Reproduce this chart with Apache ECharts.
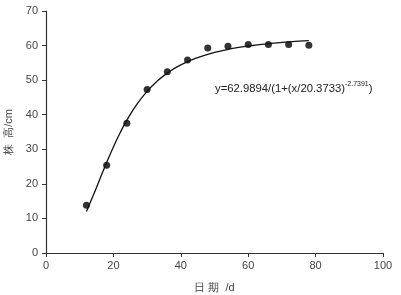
<!DOCTYPE html>
<html><head><meta charset="utf-8">
<script src="https://cdn.jsdelivr.net/npm/echarts@6/dist/echarts.min.js"></script>
<style>html,body{margin:0;padding:0;background:#fff}#c{width:401px;height:295px}</style>
</head><body><div id="c"></div>
<script>
var days = [12, 18, 24, 30, 36, 42, 48, 54, 60, 66, 72, 78];
var heights = [13.8, 25.4, 37.5, 47.3, 52.4, 55.8, 59.3, 59.8, 60.3, 60.3, 60.3, 60.1];
var fitX = [12, 14, 16, 18, 20, 22, 24, 27, 30, 33, 36, 40, 45, 50, 55, 60, 66, 72, 78];
var fitY = [11.97, 16.60, 21.43, 26.20, 30.69, 34.79, 38.44, 43.07, 46.78, 49.72, 52.04, 54.41, 56.54, 58.03, 59.10, 59.88, 60.57, 61.07, 61.43];
var xTicks = [0, 20, 40, 60, 80, 100];
var yTicks = [0, 10, 20, 30, 40, 50, 60, 70];
var xName = '日 期  /d';
var yName = '株  高/cm';
var eqMain = 'y=62.9894/(1+(x/20.3733)';
var eqExp = '-2.7391';

var chart = echarts.init(document.getElementById('c'));
var font = '"Liberation Sans", Arial, sans-serif';
var axisCommon = {
  axisLine: {show: true, onZero: false, lineStyle: {color: '#333', width: 1.2}},
  axisTick: {show: true, length: 4, lineStyle: {color: '#333'}},
  splitLine: {show: false},
  nameTextStyle: {color: '#444', fontSize: 11, fontFamily: font}
};
chart.setOption({
  animation: false,
  grid: {left: 46, right: 18, top: 11, bottom: 42, containLabel: false, outerBoundsMode: 'none'},
  xAxis: Object.assign({
    type: 'value', min: xTicks[0], max: xTicks[xTicks.length - 1], interval: 20,
    name: xName, nameLocation: 'middle', nameGap: 29,
    axisLabel: {color: '#444', fontSize: 11, fontFamily: font, margin: 7}
  }, axisCommon),
  yAxis: Object.assign({
    type: 'value', min: yTicks[0], max: yTicks[yTicks.length - 1], interval: 10,
    name: yName, nameLocation: 'middle', nameGap: 27, nameRotate: 90,
    axisLabel: {color: '#444', fontSize: 11, fontFamily: font, margin: 8}
  }, axisCommon),
  series: [
    {
      type: 'line', smooth: true, symbol: 'none',
      lineStyle: {color: '#111', width: 1.3},
      data: fitX.map(function (x, i) { return [x, fitY[i]]; })
    },
    {
      type: 'scatter', symbolSize: 7,
      itemStyle: {color: '#000'},
      data: days.map(function (d, i) { return [d, heights[i]]; })
    }
  ],
  graphic: [{
    type: 'text', left: 215, top: 81,
    style: {
      text: '{m|' + eqMain + '}{s|' + eqExp + '}{m|)}',
      rich: {
        m: {fontSize: 11.3, fill: '#222', fontFamily: font},
        s: {fontSize: 7, fill: '#222', fontFamily: font, padding: [0, 0, 8, 0]}
      }
    }
  }]
});
</script></body></html>
